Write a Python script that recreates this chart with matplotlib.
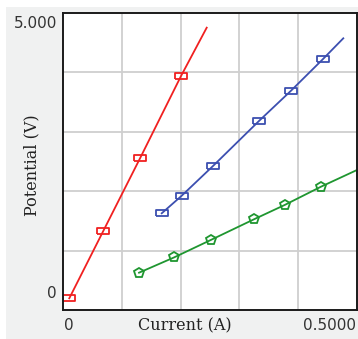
import matplotlib
matplotlib.use("Agg")
import matplotlib.pyplot as plt
from matplotlib.patches import Rectangle

# data
red_x = [0.0107, 0.0685, 0.131, 0.2007, 0.2444]
red_y = [0.197, 1.33, 2.554, 3.939, 4.753]
blue_x = [0.1679, 0.2019, 0.2556, 0.3338, 0.3878, 0.4417, 0.4767]
blue_y = [1.628, 1.924, 2.429, 3.187, 3.692, 4.220, 4.574]
green_x = [0.1293, 0.1893, 0.2512, 0.3248, 0.3770, 0.4388, 0.5]
green_y = [0.628, 0.887, 1.178, 1.527, 1.768, 2.076, 2.357]

x_limits = [0, 0.5]
y_limits = [0, 5]
x_labels = ["0", "0.5000"]
y_labels = ["0", "5.000"]

W, H = 358, 339
fig = plt.figure(figsize=(W / 100, H / 100), dpi=100, facecolor="white")
fig.patches.append(Rectangle((6 / W, 0), 1, 1 - 7 / H, transform=fig.transFigure,
                             facecolor="#f0f1f1", edgecolor="none", zorder=-1))

ax = fig.add_axes([63 / W, 1 - 310 / H, 294 / W, 297 / H])
ax.set_facecolor("white")
ax.set_xlim(x_limits)
ax.set_ylim(y_limits)
ax.set_xticks([0.1, 0.2, 0.3, 0.4])
ax.set_yticks([1, 2, 3, 4])
ax.tick_params(length=0, labelbottom=False, labelleft=False)
ax.grid(True, color="#cfcfcf", linewidth=1.3)
for s in ax.spines.values():
    s.set_color("#1a1a1a")
    s.set_linewidth(1.4)

rect = [(-1, -0.45), (1, -0.45), (1, 0.45), (-1, 0.45), (-1, -0.45)]
ax.plot(red_x, red_y, color="#f02020", lw=1.3, marker=rect, markevery=[0, 1, 2, 3],
        ms=8.6, mfc="none", mew=1.3, clip_on=False)
ax.plot(blue_x, blue_y, color="#3c4fb0", lw=1.3, marker=rect, markevery=[0, 1, 2, 3, 4, 5],
        ms=8.6, mfc="none", mew=1.3)
ax.plot(green_x, green_y, color="#1f9630", lw=1.3, marker="p", markevery=[0, 1, 2, 3, 4, 5],
        ms=7, mfc="none", mew=1.3)

tick_font = dict(family="DejaVu Sans", size=11, color="#333333")
fig.text(64 / W, 1 - 326 / H, x_labels[0], ha="left", va="center", **tick_font)
fig.text(356 / W, 1 - 326 / H, x_labels[1], ha="right", va="center", **tick_font)
fig.text(57 / W, 1 - 294 / H, y_labels[0], ha="right", va="center", **tick_font)
fig.text(57 / W, 1 - 24 / H, y_labels[1], ha="right", va="center", **tick_font)

label_font = dict(family="DejaVu Serif", size=11.5, color="#222222")
fig.text(185 / W, 1 - 326 / H, "Current (A)", ha="center", va="center", **label_font)
fig.text(32 / W, 1 - 165 / H, "Potential (V)", ha="center", va="center",
         rotation=90, **label_font)

fig.savefig("out.png", dpi=100, facecolor=fig.get_facecolor())
